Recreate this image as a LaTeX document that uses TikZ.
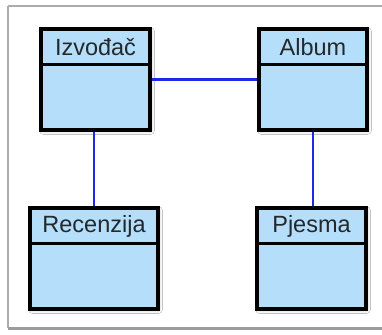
\documentclass[tikz,border=0pt]{standalone}
\usepackage{fontspec}
\setmainfont{Liberation Sans}
\usetikzlibrary{shadows.blur}
\definecolor{boxfill}{RGB}{180,222,250}
\definecolor{linkblue}{RGB}{30,40,230}
\definecolor{framegray}{RGB}{172,172,172}
\definecolor{textdark}{RGB}{35,40,45}
\tikzset{
  cls/.style={draw=black, line width=2.6pt, fill=boxfill, inner sep=0pt,
    minimum height=99pt,
    blur shadow={shadow xshift=1.5pt, shadow yshift=-1.5pt, shadow blur radius=4pt, shadow opacity=35}},
  ttl/.style={font=\fontsize{23.5}{26}\selectfont, text=textdark, inner sep=0pt, anchor=center},
  divider/.style={line width=2.6pt, draw=black},
  link/.style={draw=linkblue, line width=2.6pt},
  framel/.style={draw=framegray, line width=2pt}
}
\begin{document}
\begin{tikzpicture}[x=1pt,y=-1pt]
\useasboundingbox (0,0) rectangle (382,334);
\fill[white] (0,0) rectangle (382,334);
% frame
\draw[framel] (8,6.5) -- (383,6.5);
\draw[framel] (8,6.5) -- (8,328);
\draw[draw=framegray!90!black, line width=3pt] (8,328.5) -- (383,328.5);

% classes
\node[cls, minimum width=107pt] (izv) at (95.5,79.5) {};
\node[cls, minimum width=106pt] (alb) at (313,79.5) {};
\node[cls, minimum width=126pt] (rec) at (94,258.5) {};
\node[cls, minimum width=107pt] (pje) at (311.5,258.5) {};

% connectors
\draw[link] (izv.east) -- (alb.west);
\draw[link] (rec.north |- izv.south) -- (rec.north);
\draw[link] (alb.south) -- (alb.south |- pje.north);

% redraw class borders on top
\foreach \n in {izv,alb,rec,pje}{
  \draw[line width=2.6pt] (\n.north west) rectangle (\n.south east);
}

% dividers
\draw[divider] ([yshift=-36pt]izv.north west) -- ([yshift=-36pt]izv.north east);
\draw[divider] ([yshift=-36pt]alb.north west) -- ([yshift=-36pt]alb.north east);
\draw[divider] ([yshift=-36pt]rec.north west) -- ([yshift=-36pt]rec.north east);
\draw[divider] ([yshift=-36pt]pje.north west) -- ([yshift=-36pt]pje.north east);

% titles
\node[ttl] (tizv) at ([yshift=-18.5pt]izv.north) {Izvođač};
\node[ttl] (talb) at ([yshift=-18.5pt]alb.north) {Album};
\node[ttl] (trec) at ([yshift=-18.5pt]rec.north) {Recenzija};
\node[ttl] (tpje) at ([yshift=-18.5pt]pje.north) {Pjesma};
\end{tikzpicture}
\end{document}
